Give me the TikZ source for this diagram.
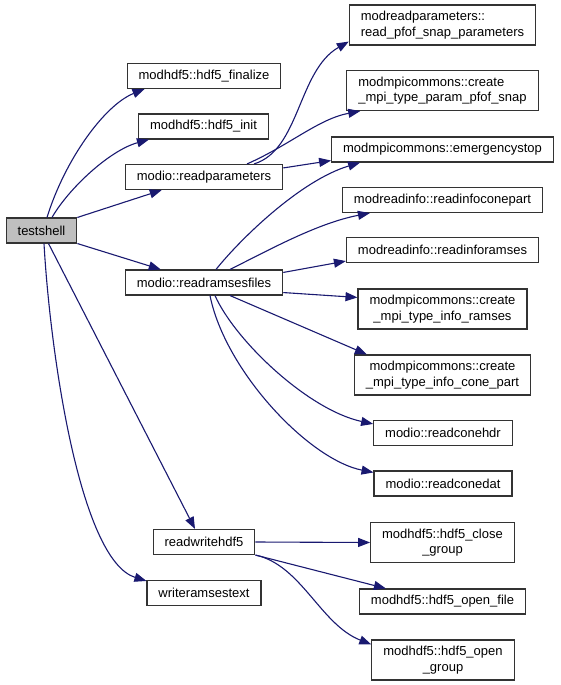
\documentclass[tikz,border=0pt]{standalone}
\usepackage{fontspec}
\setmainfont{Liberation Sans}
\usetikzlibrary{arrows.meta}
\definecolor{callblue}{HTML}{191970}

\begin{document}
\begin{tikzpicture}[x=1pt,y=-1pt,
  fn/.style={draw=black!80, line width=1.1pt, inner xsep=11.5pt, inner ysep=0pt,
    minimum height=25pt, align=center, font=\fontsize{13}{15.5}\selectfont},
  fntwo/.style={fn, minimum height=40pt},
  call/.style={callblue, line width=1.1pt, -{Triangle[length=12pt,width=9pt]}}]
  \useasboundingbox (0,0) rectangle (560,685);

  % Caller
  \node[fn, fill=black!25] (ts) at (41.5,230.5) {testshell};

  % Direct callees
  \node[fn] (fin)  at (204,76)    {modhdf5::hdf5\_finalize};
  \node[fn] (init) at (203.5,126.5) {modhdf5::hdf5\_init};
  \node[fn] (rp)   at (204,177)   {modio::readparameters};
  \node[fn] (rrf)  at (204,282.5) {modio::readramsesfiles};
  \node[fn] (rwh)  at (204,542)   {readwritehdf5};
  \node[fn] (wrt)  at (204,593)   {writeramsestext};

  % Second level
  \node[fntwo, align=left] (rpsp) at (442.5,25) {modreadparameters::\\read\_pfof\_snap\_parameters};
  \node[fntwo, align=left] (mpsnap) at (442.5,90.5) {modmpicommons::create\\\_mpi\_type\_param\_pfof\_snap};
  \node[fn] (estop)  at (442.5,149.5) {modmpicommons::emergencystop};
  \node[fn] (ricp)   at (442.5,200)   {modreadinfo::readinfoconepart};
  \node[fn] (rir)    at (442.5,250)   {modreadinfo::readinforamses};
  \node[fntwo] (mramses) at (442.5,309) {modmpicommons::create\\\_mpi\_type\_info\_ramses};
  \node[fntwo] (mcone) at (442.5,375)  {modmpicommons::create\\\_mpi\_type\_info\_cone\_part};
  \node[fn] (chdr)   at (443,433)     {modio::readconehdr};
  \node[fn] (cdat)   at (443,483.5)   {modio::readconedat};
  \node[fntwo] (cgrp) at (442.5,542.5) {modhdf5::hdf5\_close\\\_group};
  \node[fn] (ofile)  at (442.5,601.5) {modhdf5::hdf5\_open\_file};
  \node[fntwo] (ogrp) at (443,660)    {modhdf5::hdf5\_open\\\_group};

  % testshell calls
  \draw[call] ([xshift=5.5pt]ts.north) .. controls +(18,-58) and +(-40,16) .. ([xshift=18pt]fin.south west);
  \draw[call] ([xshift=10.5pt]ts.north) .. controls +(16,-28) and +(-40,11) .. ([xshift=11pt]init.south west);
  \draw[call] (ts.north east) -- ([xshift=37pt]rp.south west);
  \draw[call] (ts.south east) -- ([xshift=36pt]rrf.north west);
  \draw[call] ([xshift=7pt]ts.south) -- ([xshift=-9pt]rwh.north);
  \draw[call] ([xshift=2.5pt]ts.south) .. controls +(6,107) and +(-67,-21) .. ([yshift=-1pt]wrt.north west);

  % readparameters calls
  \draw[call] ([xshift=50pt]rp.north) .. controls +(46,-14) and +(-51,29) .. ([yshift=4pt]rpsp.south west);
  \draw[call] ([xshift=43pt]rp.north) .. controls +(43,-19) and +(-42,8) .. ([xshift=14pt]mpsnap.south west);
  \draw[call] ([yshift=-4pt]rp.north east) -- ([yshift=2pt]estop.south west);

  % readramsesfiles calls
  \draw[call] ([xshift=12pt]rrf.north) .. controls +(24,-30) and +(-60,18) .. ([xshift=29pt]estop.south west);
  \draw[call] ([xshift=26pt]rrf.north) .. controls +(40,-20) and +(-52,10) .. ([xshift=28pt]ricp.south west);
  \draw[call] ([yshift=-3pt]rrf.north east) -- ([yshift=2pt]rir.south west);
  \draw[call] ([yshift=3pt]rrf.south east) -- ([yshift=-9pt]mramses.north west);
  \draw[call] ([xshift=26pt]rrf.south) -- ([xshift=13pt]mcone.north west);
  \draw[call] ([xshift=11pt]rrf.south) .. controls +(20,45) and +(-65,-14) .. ([yshift=-4pt]chdr.north west);
  \draw[call] ([xshift=6pt]rrf.south) .. controls +(15,75) and +(-65,-13) .. ([yshift=-2pt]cdat.north west);

  % readwritehdf5 calls
  \draw[call] (rwh.east) -- (cgrp.west);
  \draw[call] (rwh.south east) -- ([xshift=27pt]ofile.north west);
  \draw[call] (rwh.south east) .. controls +(46,10) and +(-51,-20) .. ([yshift=-5pt]ogrp.north west);
\end{tikzpicture}
\end{document}
